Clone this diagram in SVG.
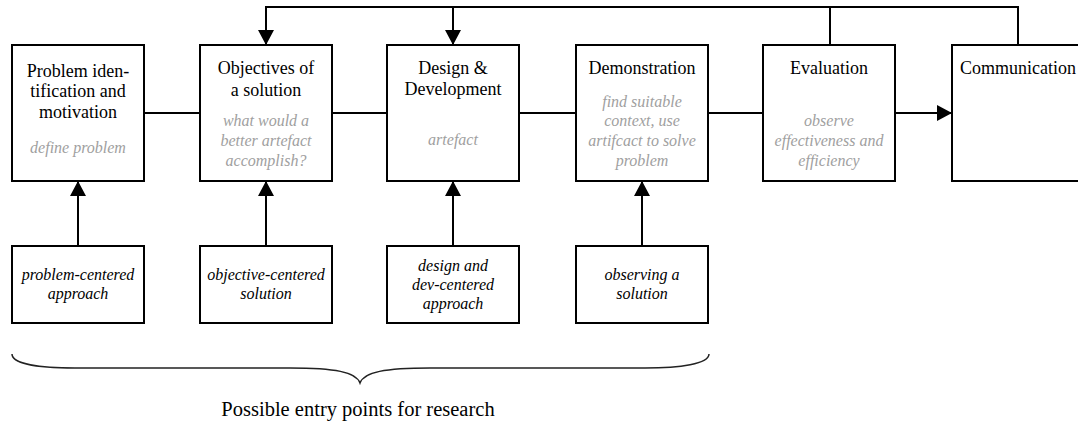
<svg xmlns="http://www.w3.org/2000/svg" width="1078" height="423" viewBox="0 0 1078 423">
<defs>
<style>
.box{fill:#fff;stroke:#000;stroke-width:2}
.t{font-family:"Liberation Serif","Times New Roman",serif;font-size:18px;fill:#000;text-anchor:middle}
.g{font-family:"Liberation Serif","Times New Roman",serif;font-size:16px;font-style:italic;fill:#a0a0a0;text-anchor:middle}
.i{font-family:"Liberation Serif","Times New Roman",serif;font-size:16px;font-style:italic;fill:#000;text-anchor:middle}
.c{fill:none;stroke:#000;stroke-width:2}
.brace{fill:none;stroke:#222;stroke-width:1.5}
.cap{font-family:"Liberation Serif","Times New Roman",serif;font-size:20.5px;fill:#000;text-anchor:middle}
</style>
<marker id="arr" markerUnits="userSpaceOnUse" markerWidth="16" markerHeight="16" refX="15" refY="8" orient="auto">
<path d="M0,0 L15,8 L0,16 z" fill="#000"/>
</marker>
</defs>
<rect width="1078" height="423" fill="#fff"/>
<g id="connectors">
<line class="c" x1="144" y1="113" x2="200" y2="113"/>
<line class="c" x1="332" y1="113" x2="387" y2="113"/>
<line class="c" x1="519" y1="113" x2="576" y2="113"/>
<line class="c" x1="708" y1="113" x2="763" y2="113"/>
<line class="c" x1="895" y1="113" x2="952" y2="113" marker-end="url(#arr)"/>
<polyline class="c" points="830,45 830,7 1018,7 1018,45"/>
<line class="c" x1="265" y1="7" x2="830" y2="7"/>
<line class="c" x1="266" y1="6" x2="266" y2="45" marker-end="url(#arr)"/>
<line class="c" x1="453" y1="7" x2="453" y2="45" marker-end="url(#arr)"/>
<line class="c" x1="78" y1="246" x2="78" y2="181" marker-end="url(#arr)"/>
<line class="c" x1="266" y1="246" x2="266" y2="181" marker-end="url(#arr)"/>
<line class="c" x1="453" y1="246" x2="453" y2="181" marker-end="url(#arr)"/>
<line class="c" x1="642" y1="246" x2="642" y2="181" marker-end="url(#arr)"/>
</g>
<g id="n1">
<rect class="box" x="12" y="45" width="132" height="136"/>
<text class="t" x="78" y="76.5">Problem iden-</text>
<text class="t" x="78" y="97">tification and</text>
<text class="t" x="78" y="117.5">motivation</text>
<text class="g" x="78" y="153">define problem</text>
</g>
<g id="n2">
<rect class="box" x="200" y="45" width="132" height="136"/>
<text class="t" x="266" y="74">Objectives of</text>
<text class="t" x="266" y="95.5">a solution</text>
<text class="g" x="266" y="126">what would a</text>
<text class="g" x="266" y="146">better artefact</text>
<text class="g" x="266" y="166">accomplish?</text>
</g>
<g id="n3">
<rect class="box" x="387" y="45" width="132" height="136"/>
<text class="t" x="453" y="74">Design &amp;</text>
<text class="t" x="453" y="95">Development</text>
<text class="g" x="453" y="145">artefact</text>
</g>
<g id="n4">
<rect class="box" x="576" y="45" width="132" height="136"/>
<text class="t" x="642" y="74">Demonstration</text>
<text class="g" x="642" y="106.5">find suitable</text>
<text class="g" x="642" y="126">context, use</text>
<text class="g" x="642" y="146">artifcact to solve</text>
<text class="g" x="642" y="166">problem</text>
</g>
<g id="n5">
<rect class="box" x="763" y="45" width="132" height="136"/>
<text class="t" x="829" y="74">Evaluation</text>
<text class="g" x="829" y="126">observe</text>
<text class="g" x="829" y="146">effectiveness and</text>
<text class="g" x="829" y="166">efficiency</text>
</g>
<g id="n6">
<rect class="box" x="952" y="45" width="132" height="136"/>
<text class="t" x="1018" y="74">Communication</text>
</g>
<g id="b1">
<rect class="box" x="12" y="246" width="132" height="77"/>
<text class="i" x="78" y="280">problem-centered</text>
<text class="i" x="78" y="299">approach</text>
</g>
<g id="b2">
<rect class="box" x="200" y="246" width="132" height="77"/>
<text class="i" x="266" y="280">objective-centered</text>
<text class="i" x="266" y="299">solution</text>
</g>
<g id="b3">
<rect class="box" x="387" y="246" width="132" height="77"/>
<text class="i" x="453" y="271">design and</text>
<text class="i" x="453" y="290">dev-centered</text>
<text class="i" x="453" y="309">approach</text>
</g>
<g id="b4">
<rect class="box" x="576" y="246" width="132" height="77"/>
<text class="i" x="642" y="280">observing a</text>
<text class="i" x="642" y="299">solution</text>
</g>
<g id="brace">
<path class="brace" d="M12,354 C12,364 40,368 75,368 L 290,368 C 335,368 356,372 360,383 C 364,372 385,368 430,368 L 645,368 C 680,368 709,364 709,354"/>
<text class="cap" x="358" y="416">Possible entry points for research</text>
</g>
</svg>
